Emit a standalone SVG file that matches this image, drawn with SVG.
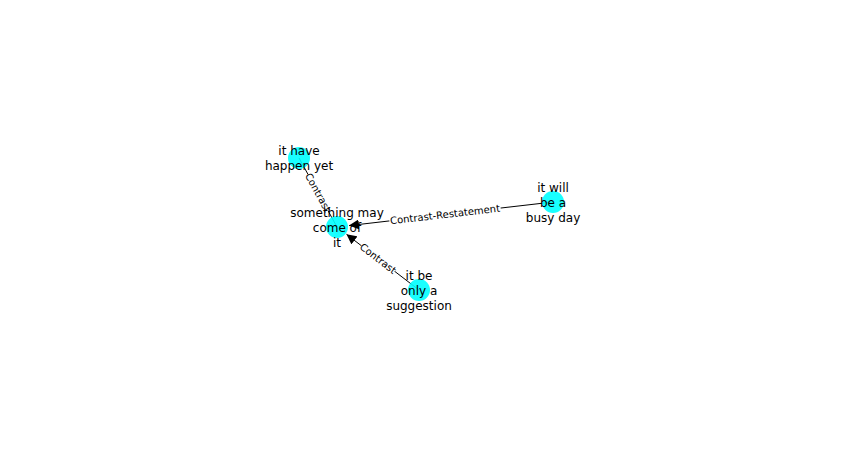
<svg xmlns="http://www.w3.org/2000/svg" width="851" height="449" viewBox="0 0 851 449">
  <style>
    .node circle { fill: #00ffff; fill-opacity: 0.9; }
    .node text { font-family: "DejaVu Sans", sans-serif; font-size: 12px; fill: #000; text-anchor: middle; }
    .edge { stroke: #000; stroke-width: 1; fill: none; }
    .elabel rect { fill: #fff; }
    .elabel text { font-family: "DejaVu Sans", sans-serif; font-size: 10px; fill: #000; text-anchor: middle; }
  </style>
  <defs>
    <marker id="arrow" viewBox="0 0 10 10" refX="10" refY="5" markerWidth="10" markerHeight="10" markerUnits="userSpaceOnUse" orient="auto">
      <path d="M0,0 L10,5 L0,10 z" fill="#000"/>
    </marker>
  </defs>
  <rect width="851" height="449" fill="#fff"/>

  <g id="connectors">
    <line class="edge" x1="299" y1="158" x2="337" y2="227"/>
    <line class="edge" x1="553" y1="202" x2="349" y2="225.6" marker-end="url(#arrow)"/>
    <line class="edge" x1="419" y1="290" x2="346.5" y2="234.3" marker-end="url(#arrow)"/>
    <g class="elabel" transform="translate(318,192.5) rotate(61.2)">
      <rect x="-21" y="-6" width="42" height="12"/>
      <text y="3.5">Contrast</text>
    </g>
    <g class="elabel" transform="translate(445,214.5) rotate(-6.6)">
      <rect x="-56" y="-6" width="112" height="12"/>
      <text y="3.5">Contrast-Restatement</text>
    </g>
    <g class="elabel" transform="translate(378,258.5) rotate(37.5)">
      <rect x="-21" y="-6" width="42" height="12"/>
      <text y="3.5">Contrast</text>
    </g>
  </g>

  <g id="n-happen-yet" class="node">
    <circle cx="299" cy="158" r="11"/>
    <text x="299" y="155">it have</text>
    <text x="299" y="170">happen yet</text>
  </g>
  <g id="n-something-may" class="node">
    <circle cx="337" cy="227" r="11"/>
    <text x="337" y="216.5">something may</text>
    <text x="337" y="231.5">come of</text>
    <text x="337" y="246.5">it</text>
  </g>
  <g id="n-busy-day" class="node">
    <circle cx="553" cy="202" r="11"/>
    <text x="553" y="191.5">it will</text>
    <text x="553" y="206.5">be a</text>
    <text x="553" y="221.5">busy day</text>
  </g>
  <g id="n-suggestion" class="node">
    <circle cx="419" cy="290" r="11"/>
    <text x="419" y="279.5">it be</text>
    <text x="419" y="294.5">only a</text>
    <text x="419" y="309.5">suggestion</text>
  </g>
</svg>
